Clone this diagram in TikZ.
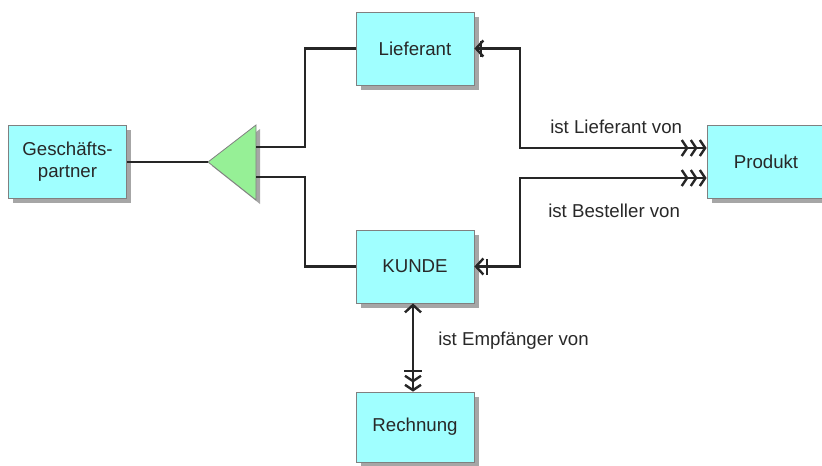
\documentclass[tikz,border=0pt]{standalone}
\usepackage{fontspec}
\setmainfont{Liberation Sans}
\usetikzlibrary{arrows.meta,shadows,calc}
\definecolor{boxfill}{RGB}{160,255,255}
\definecolor{trifill}{RGB}{150,240,150}
\definecolor{txt}{RGB}{40,40,40}
\begin{document}
\begin{tikzpicture}[x=0.75pt,y=-0.75pt,
  entity/.style={draw=black!50, line width=0.6pt, fill=boxfill, minimum width=88.5pt, minimum height=54.75pt,
    inner sep=0pt, align=center, text=txt, font=\fontsize{14pt}{16.5pt}\selectfont,
    drop shadow={shadow xshift=3.5pt, shadow yshift=-3.5pt, fill=black!35, opacity=1}},
  conn/.style={draw=black!85, line width=1.7pt},
  lbl/.style={text=txt, font=\fontsize{14pt}{16.5pt}\selectfont, anchor=west, inner sep=0pt},
  ]
\useasboundingbox (0,0) rectangle (822,465);
\node[entity] (gp) at (67.5,162) {Geschäfts-\\partner};
\node[entity] (lief) at (415,48.5) {Lieferant};
\node[entity] (kunde) at (415,266.5) {KUNDE};
\node[entity] (rech) at (415,427) [minimum height=52.5pt] {Rechnung};
\node[entity] (prod) at (766,161.5) {Produkt};
% triangle
\fill[black!35] (212,166) -- (260,129) -- (260,204) -- cycle;
\draw[black!50, fill=trifill, line width=0.6pt] (208,162) -- (256,125) -- (256,200) -- cycle;
\coordinate (tip) at (208,162);
\coordinate (tu) at (256,147);
\coordinate (tl) at (256,177);
% connectors
\draw[conn] (gp.east) -- (tip);
\draw[conn] (tu) -- (305,147) |- (lief.west);
\draw[conn] (tl) -- (305,177) |- (kunde.west);
\draw[conn, {Straight Barb[length=5.5pt,width=12pt,line width=1.8pt] Bar[width=12pt,line width=1.6pt,sep=-3.5pt]}-{Straight Barb[length=4pt,width=12pt,line width=1.8pt,sep=0.8pt] Straight Barb[length=4pt,width=12pt,line width=1.8pt,sep=0.8pt] Straight Barb[length=4pt,width=12pt,line width=1.8pt]}]
  (lief.east) -- (520,48.5) |- ($(prod.west)+(0,-13.5)$);
\draw[conn, {Straight Barb[length=5.5pt,width=12pt,line width=1.8pt] Bar[width=12pt,line width=1.6pt,sep=1pt]}-{Straight Barb[length=4pt,width=12pt,line width=1.8pt,sep=0.8pt] Straight Barb[length=4pt,width=12pt,line width=1.8pt,sep=0.8pt] Straight Barb[length=4pt,width=12pt,line width=1.8pt]}]
  (kunde.east) -- (520,266.5) |- ($(prod.west)+(0,16.5)$);
\draw[conn, {Straight Barb[length=5.5pt,width=12pt,line width=1.8pt]}-{Bar[width=13pt,line width=1.6pt,sep=2pt] Straight Barb[length=4pt,width=12pt,line width=1.8pt,sep=0.8pt] Straight Barb[length=4pt,width=12pt,line width=1.8pt]}]
  ($(kunde.south)+(-2,0)$) -- ($(rech.north)+(-2,0)$);
% labels
\node[lbl] (l1) at (550,127) {ist Lieferant von};
\node[lbl] (l2) at (548,211) {ist Besteller von};
\node[lbl] (l3) at (438,341) {ist Empfänger von};
\end{tikzpicture}
\end{document}
